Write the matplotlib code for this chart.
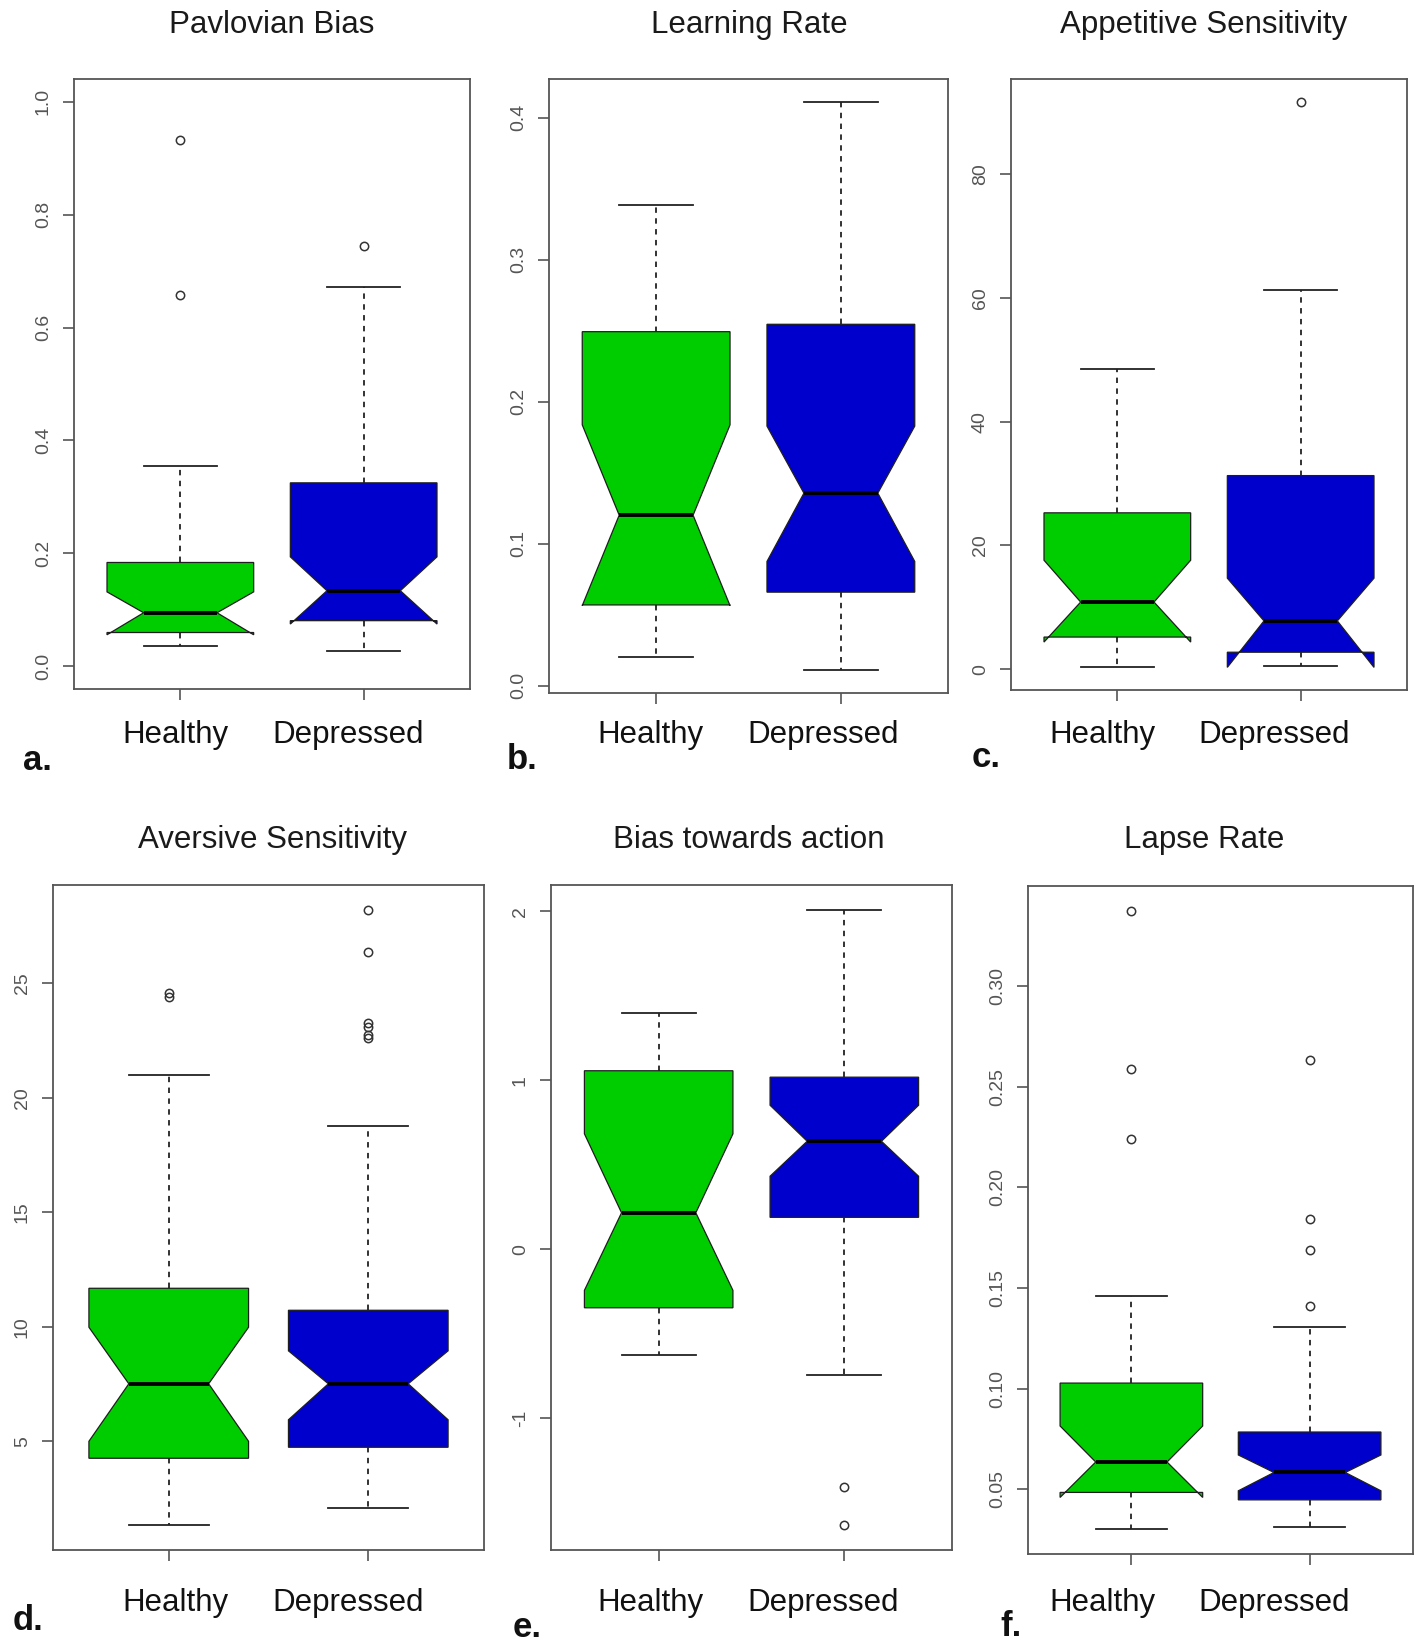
import matplotlib
matplotlib.use('Agg')
import matplotlib.pyplot as plt
import numpy as np

plt.rcParams['font.family'] = ['Liberation Sans', 'DejaVu Sans']

W, H = 1418, 1642

titles = ['Pavlovian Bias', 'Learning Rate', 'Appetitive Sensitivity',
          'Aversive Sensitivity', 'Bias towards action', 'Lapse Rate']
groups = ['Healthy', 'Depressed']
letters = ['a.', 'b.', 'c.', 'd.', 'e.', 'f.']

# each row: [Healthy, Depressed]
whislo = [[0.036, 0.028], [0.020, 0.011], [0.37, 0.52],
          [1.33, 2.10], [-0.624, -0.746], [0.0302, 0.0312]]
q1 = [[0.060, 0.081], [0.057, 0.066], [5.20, 2.75],
      [4.26, 4.74], [-0.346, 0.189], [0.0485, 0.0448]]
cilo = [[0.056, 0.075], [0.0565, 0.0876], [4.39, 0.30],
        [5.00, 5.94], [-0.243, 0.432], [0.0460, 0.0493]]
med = [[0.095, 0.134], [0.1202, 0.1357], [10.86, 7.81],
       [7.51, 7.51], [0.216, 0.639], [0.0636, 0.0584]]
cihi = [[0.132, 0.194], [0.1838, 0.1829], [17.62, 14.72],
        [9.98, 8.95], [0.683, 0.852], [0.0815, 0.0671]]
q3 = [[0.184, 0.325], [0.2494, 0.2546], [25.28, 31.30],
      [11.68, 10.72], [1.056, 1.018], [0.1028, 0.0785]]
whishi = [[0.354, 0.671], [0.3386, 0.4113], [48.55, 61.26],
          [21.0, 18.78], [1.40, 2.009], [0.1459, 0.1308]]
fliers = [[[0.932, 0.658], [0.744]],
          [[], []],
          [[], [91.75]],
          [[24.40, 24.55], [28.21, 26.38, 23.25, 23.10, 22.75, 22.60]],
          [[], [-1.408, -1.633]],
          [[0.3374, 0.2586, 0.2239], [0.2633, 0.1845, 0.1687, 0.1412]]]
# panel a was drawn with a fixed 0..1 range
yrange_fixed = [(0.0, 1.0), None, None, None, None, None]
yticks = [[0.0, 0.2, 0.4, 0.6, 0.8, 1.0], [0.0, 0.1, 0.2, 0.3, 0.4],
          [0, 20, 40, 60, 80], [5, 10, 15, 20, 25], [-1, 0, 1, 2],
          [0.05, 0.10, 0.15, 0.20, 0.25, 0.30]]
ytick_labels = [['0.0', '0.2', '0.4', '0.6', '0.8', '1.0'],
                ['0.0', '0.1', '0.2', '0.3', '0.4'],
                ['0', '20', '40', '60', '80'],
                ['5', '10', '15', '20', '25'],
                ['-1', '0', '1', '2'],
                ['0.05', '0.10', '0.15', '0.20', '0.25', '0.30']]
colors = ['#00CD00', '#0000CD']

# layout in pixels (x0, x1, y0, y1)
axes_px = [(74, 470, 79, 689), (549, 948, 79, 693), (1011, 1407, 79, 690),
           (53, 484, 885, 1550), (551, 952, 885, 1550), (1028, 1413, 886, 1554)]
col_title_x = [272, 749, 1204]
col_label_x = [(175, 348), (650, 823), (1102, 1274)]
row_title_y = [33, 848]
row_label_y = [743, 1611]
letter_pos = [(23, 770), (507, 769), (972, 767), (13, 1630), (513, 1637), (1000, 1636)]

fig = plt.figure(figsize=(W / 100, H / 100), dpi=100)


def ftext(x, y, s, **kw):
    fig.text(x / W, 1 - y / H, s, **kw)


for i in range(6):
    x0, x1, y0, y1 = axes_px[i]
    ax = fig.add_axes([x0 / W, 1 - y1 / H, (x1 - x0) / W, (y1 - y0) / H])
    stats = []
    for g in range(2):
        stats.append({'whislo': whislo[i][g], 'q1': q1[i][g], 'med': med[i][g],
                      'q3': q3[i][g], 'whishi': whishi[i][g], 'cilo': cilo[i][g],
                      'cihi': cihi[i][g], 'fliers': np.array(fliers[i][g])})
    bp = ax.bxp(stats, positions=[1, 2], widths=0.8, shownotches=True, patch_artist=True,
                boxprops=dict(edgecolor='#1e1e1e', linewidth=0.9),
                medianprops=dict(color='black', linewidth=2.8, solid_capstyle='butt'),
                whiskerprops=dict(color='#222222', linewidth=1.3, linestyle=(0, (3, 3))),
                capprops=dict(color='#222222', linewidth=1.3),
                flierprops=dict(marker='o', markerfacecolor='none', markeredgecolor='#333333',
                                markersize=6, markeredgewidth=1.1))
    for patch, c in zip(bp['boxes'], colors):
        patch.set_facecolor(c)

    if yrange_fixed[i] is not None:
        lo, hi = yrange_fixed[i]
    else:
        vals = whislo[i] + whishi[i] + cilo[i] + cihi[i] + fliers[i][0] + fliers[i][1]
        lo, hi = min(vals), max(vals)
    pad = 0.04 * (hi - lo)
    ax.set_ylim(lo - pad, hi + pad)
    ax.set_xlim(0.42, 2.58)

    ax.set_yticks(yticks[i])
    ax.set_yticklabels(ytick_labels[i], rotation=90, va='center')
    ax.set_xticks([1, 2])
    ax.set_xticklabels([])
    ax.tick_params(axis='y', length=8, width=1.2, color='#555555', labelcolor='#555555',
                   labelsize=14, pad=8)
    ax.tick_params(axis='x', length=8, width=1.2, color='#555555')
    for sp in ax.spines.values():
        sp.set_color('#555555')
        sp.set_linewidth(1.3)

    col, row = i % 3, i // 3
    ftext(col_title_x[col], row_title_y[row], titles[i], ha='center', va='baseline',
          fontsize=22.5, color='#1a1a1a')
    for g in range(2):
        ftext(col_label_x[col][g], row_label_y[row], groups[g], ha='center', va='baseline',
              fontsize=22.5, color='#111111')
    lx, ly = letter_pos[i]
    ftext(lx, ly, letters[i], ha='left', va='baseline', fontsize=25, fontweight='bold',
          color='#111111')

fig.savefig('out.png', dpi=100, facecolor='white')
